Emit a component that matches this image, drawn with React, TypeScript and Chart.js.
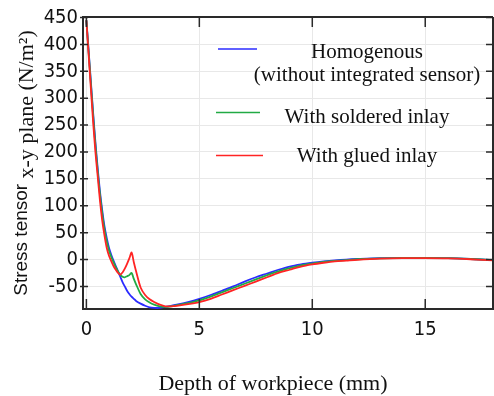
import React, { useEffect, useRef } from "react";
import { Chart, registerables } from "chart.js";

Chart.register(...registerables);

// Depth of workpiece (mm)
const depth = [
  0, 0.1, 0.2, 0.3, 0.4, 0.5, 0.6, 0.7, 0.8, 0.9, 1.0, 1.1, 1.2, 1.3, 1.4, 1.5,
  1.6, 1.7, 1.8, 1.9, 2.0, 2.1, 2.2, 2.4, 2.6, 2.8, 3.0, 3.25, 3.5, 3.75, 4.0,
  4.5, 5, 5.5, 6, 6.5, 7, 7.5, 8, 8.5, 9, 9.5, 10, 10.5, 11, 11.5, 12, 13, 14,
  15, 16, 17, 18,
];

// Stress tensor x-y plane (N/m²)
const homogenous = [
  445, 388, 330, 272, 218, 170, 127, 92, 62, 40, 22, 9, -2, -12, -22, -32,
  -42, -50, -58, -64, -69, -73, -77, -82, -86, -89, -90, -90, -88, -86, -84,
  -79, -73, -66, -58, -50, -41, -33, -26, -19, -13, -9, -6, -3.5, -1.5, 0, 1,
  2.5, 3, 3, 2.5, 1, -1,
];
const solderedInlay = [
  445, 385, 326, 267, 212, 164, 121, 86, 56, 34, 17, 5, -5, -14, -22, -28,
  -32, -33, -31, -29, -25, -36, -46, -64, -74, -80, -84, -87, -88, -87, -85,
  -81, -76, -69, -61, -53, -45, -37, -29, -22, -16, -11, -7.5, -4.5, -2.5, -1,
  0.5, 2, 3, 3, 2.5, 1, -1,
];
const gluedInlay = [
  445, 380, 317, 255, 200, 155, 110, 73, 45, 22, 7, -3, -12, -19, -25, -28,
  -24, -17, -8, 2, 13, -5, -22, -52, -66, -74, -79, -84, -87, -87, -86,
  -83, -79, -73, -65, -57, -49, -41, -33, -25, -19, -13, -9, -6, -3.5, -2,
  -0.5, 1.5, 2.5, 2.5, 2, 0.5, -1.5,
];

const seriesLabels = [
  ["Homogenous", "(without integrated sensor)"],
  ["With soldered inlay"],
  ["With glued inlay"],
];
const seriesColors = ["#2b2bff", "#22aa44", "#ff2424"];

const xTicks = [0, 5, 10, 15];
const yTicks = [-50, 0, 50, 100, 150, 200, 250, 300, 350, 400, 450];

const xTitle = "Depth of workpiece (mm)";
const yTitleSans = "Stress tensor ";
const yTitleSerif = "x-y plane (N/m\u00B2)";

const SERIF = "'Liberation Serif', 'Times New Roman', serif";
const SANS = "'Liberation Sans', Arial, sans-serif";
const TICKFONT = "'DejaVu Sans Condensed', 'DejaVu Sans', sans-serif";

const framePlugin = {
  id: "framePlugin",
  afterDraw(chart: any) {
    const { ctx, chartArea } = chart;
    const { left, right, top, bottom } = chartArea;
    const xs = chart.scales.x;
    const ys = chart.scales.y;
    ctx.save();
    // frame top & right
    ctx.strokeStyle = "#2a2a2a";
    ctx.lineWidth = 2;
    ctx.beginPath();
    ctx.moveTo(left, top);
    ctx.lineTo(right, top);
    ctx.moveTo(right, top);
    ctx.lineTo(right, bottom);
    ctx.stroke();
    // inward ticks
    ctx.lineWidth = 1.5;
    ctx.beginPath();
    xTicks.forEach((v) => {
      const px = xs.getPixelForValue(v);
      ctx.moveTo(px, bottom);
      ctx.lineTo(px, bottom - 10);
      ctx.moveTo(px, top);
      ctx.lineTo(px, top + 10);
    });
    yTicks.forEach((v) => {
      const py = ys.getPixelForValue(v);
      ctx.moveTo(right, py);
      ctx.lineTo(right - 7, py);
      ctx.moveTo(left - 3, py);
      ctx.lineTo(left + 5, py);
    });
    ctx.stroke();

    // x title
    ctx.fillStyle = "#111";
    ctx.font = `22px ${SERIF}`;
    ctx.textAlign = "center";
    ctx.textBaseline = "alphabetic";
    ctx.fillText(xTitle, 273, 390);

    // y title (mixed fonts)
    const cy = (top + bottom) / 2;
    ctx.font = `19px ${SANS}`;
    const w1 = ctx.measureText(yTitleSans).width;
    ctx.font = `22px ${SERIF}`;
    const w2 = ctx.measureText(yTitleSerif).width;
    const total = w1 + w2;
    ctx.save();
    ctx.translate(0, cy);
    ctx.rotate(-Math.PI / 2);
    ctx.textAlign = "left";
    ctx.font = `19px ${SANS}`;
    ctx.fillText(yTitleSans, -total / 2, 27);
    ctx.font = `22px ${SERIF}`;
    ctx.fillText(yTitleSerif, -total / 2 + w1, 33);
    ctx.restore();

    // legend
    const legendLines = [
      { x1: 218, x2: 257, y: 49, text: [{ t: 0, y: 58 }, { t: 1, y: 81 }] },
      { x1: 216, x2: 260, y: 112.5, text: [{ t: 0, y: 123 }] },
      { x1: 216, x2: 263, y: 155.5, text: [{ t: 0, y: 161.5 }] },
    ];
    chart.data.datasets.forEach((ds: any, i: number) => {
      const L = legendLines[i];
      ctx.strokeStyle = ds.borderColor;
      ctx.lineWidth = 1.5;
      ctx.beginPath();
      ctx.moveTo(L.x1, L.y);
      ctx.lineTo(L.x2, L.y);
      ctx.stroke();
      ctx.fillStyle = "#111";
      ctx.font = `21px ${SERIF}`;
      ctx.textAlign = "center";
      ctx.textBaseline = "alphabetic";
      L.text.forEach((tt) => {
        ctx.fillText(seriesLabels[i][tt.t], 367, tt.y);
      });
    });
    ctx.restore();
  },
};

export default function App() {
  const ref = useRef<HTMLCanvasElement | null>(null);

  useEffect(() => {
    document.body.style.margin = "0";
    const canvas = ref.current;
    if (!canvas) return;
    const series = [homogenous, solderedInlay, gluedInlay];
    const chart = new Chart(canvas, {
      type: "line",
      data: {
        datasets: series.map((vals, i) => ({
          label: seriesLabels[i].join(" "),
          data: depth.map((x, j) => ({ x, y: vals[j] })),
          borderColor: seriesColors[i],
          backgroundColor: seriesColors[i],
          borderWidth: 1.8,
          pointRadius: 0,
          tension: 0.3,
          fill: false,
          order: 3 - i,
        })),
      },
      options: {
        responsive: false,
        animation: false,
        layout: { padding: { left: 0, right: 1, top: 14, bottom: 0 } },
        plugins: {
          legend: { display: false },
          tooltip: { enabled: false },
          title: { display: false },
        },
        scales: {
          x: {
            type: "linear",
            min: -0.15,
            max: 18,
            afterBuildTicks: (s: any) => {
              s.ticks = xTicks.map((v) => ({ value: v }));
            },
            afterFit: (s: any) => {
              s.height = 87;
            },
            ticks: {
              font: { family: TICKFONT, size: 20 },
              color: "#111",
              padding: 9,
              maxRotation: 0,
              autoSkip: false,
            },
            grid: { color: "#e8e8e8", drawTicks: false, lineWidth: 1 },
            border: { color: "#2a2a2a", width: 2 },
          },
          y: {
            type: "linear",
            min: -92,
            max: 451,
            afterBuildTicks: (s: any) => {
              s.ticks = yTicks.map((v) => ({ value: v }));
            },
            afterFit: (s: any) => {
              s.width = 83;
            },
            ticks: {
              font: { family: TICKFONT, size: 20 },
              color: "#111",
              padding: 5,
              autoSkip: false,
            },
            grid: { color: "#e8e8e8", drawTicks: false, lineWidth: 1 },
            border: { color: "#2a2a2a", width: 2 },
          },
        },
      },
      plugins: [framePlugin],
    });
    return () => chart.destroy();
  }, []);

  return (
    <div style={{ width: 494, height: 396 }}>
      <canvas ref={ref} width={494} height={396} />
    </div>
  );
}
